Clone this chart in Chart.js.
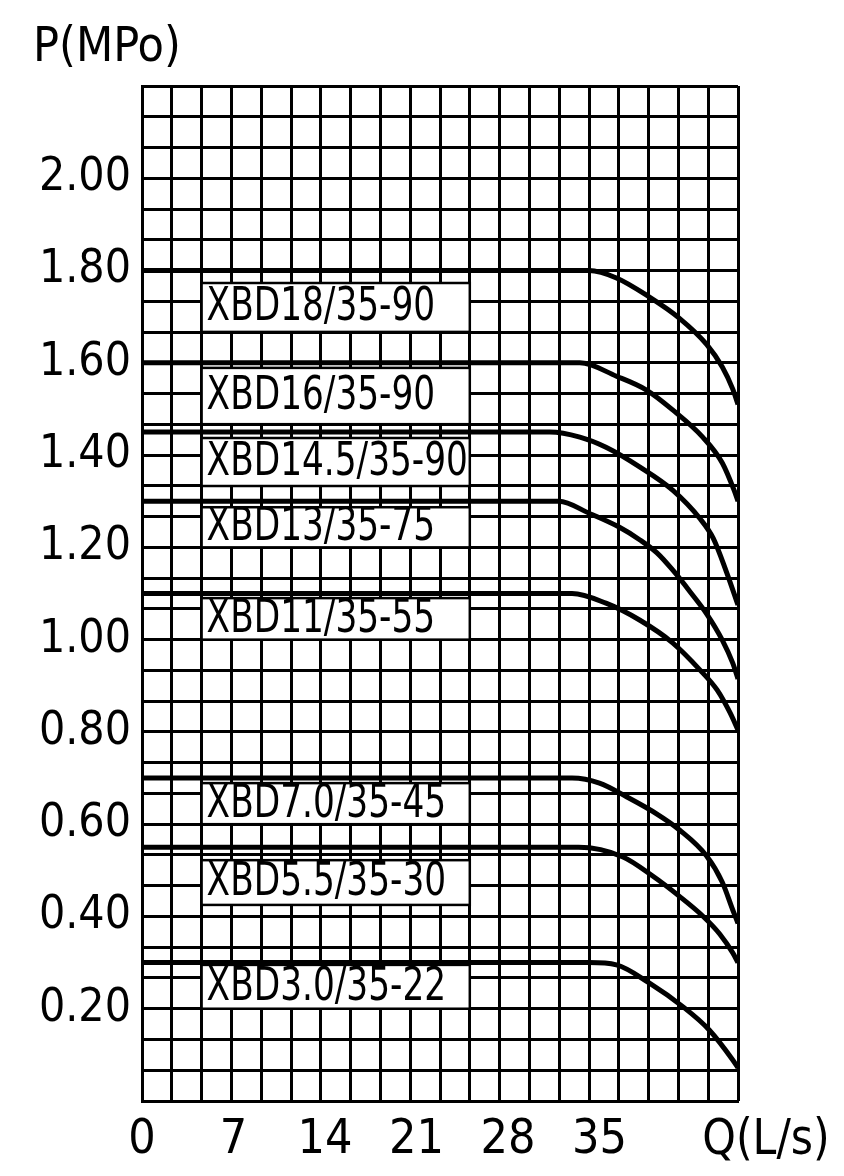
<!DOCTYPE html>
<html>
<head>
<meta charset="utf-8">
<script src="https://cdn.jsdelivr.net/npm/chart.js@4/dist/chart.umd.min.js"></script>
<style>
html,body{margin:0;padding:0;background:#fff;}
#wrap{width:844px;height:1176px;}
</style>
</head>
<body>
<div id="wrap"><canvas id="c" width="844" height="1176"></canvas></div>
<script>
const FONT = "'Liberation Sans Narrow','DejaVu Sans Condensed','Arial Narrow',sans-serif";

// ---- data (Q in L/s, P in MPa) ----
const seriesNames = ['XBD18/35-90','XBD16/35-90','XBD14.5/35-90','XBD13/35-75','XBD11/35-55','XBD7.0/35-45','XBD5.5/35-30','XBD3.0/35-22'];

const q18  = [0, 34.2, 36.3, 38.8, 41.1, 43.2, 44.4, 45.2, 45.6];
const p18  = [1.80, 1.80, 1.784, 1.743, 1.697, 1.640, 1.591, 1.543, 1.51];

const q16  = [0, 33.5, 36.3, 38.6, 40.6, 42.9, 44.4, 45.3, 45.6];
const p16  = [1.60, 1.60, 1.571, 1.541, 1.498, 1.439, 1.383, 1.324, 1.30];

const q145 = [0, 31.2, 33.5, 35.5, 38.1, 40.6, 42.7, 43.7, 44.7, 45.6];
const p145 = [1.45, 1.45, 1.439, 1.417, 1.374, 1.324, 1.262, 1.220, 1.148, 1.075];

const q13  = [0, 31.9, 34.2, 36.5, 38.1, 39.4, 40.6, 41.9, 43.2, 44.4, 45.2, 45.6];
const p13  = [1.30, 1.30, 1.274, 1.244, 1.216, 1.188, 1.151, 1.105, 1.056, 0.999, 0.949, 0.915];

const q11  = [0, 32.9, 35.5, 38.1, 40.6, 42.7, 44.0, 45.0, 45.6];
const p11  = [1.10, 1.10, 1.079, 1.042, 0.993, 0.934, 0.891, 0.841, 0.804];

const q70  = [0, 32.9, 35.0, 37.1, 39.4, 41.1, 43.2, 44.4, 45.2, 45.6];
const p70  = [0.70, 0.70, 0.689, 0.659, 0.622, 0.588, 0.531, 0.474, 0.414, 0.385];

const q55  = [0, 33.4, 36.8, 39.1, 41.1, 42.9, 44.2, 45.2, 45.6];
const p55  = [0.55, 0.55, 0.529, 0.487, 0.444, 0.401, 0.362, 0.321, 0.300];

const q30  = [0, 34.2, 36.3, 38.8, 41.4, 43.4, 45.2, 45.6];
const p30  = [0.30, 0.30, 0.295, 0.256, 0.204, 0.154, 0.089, 0.072];

const seriesQ = [q18, q16, q145, q13, q11, q70, q55, q30];
const seriesP = [p18, p16, p145, p13, p11, p70, p55, p30];

// ---- tick labels ----
const xTickValues = [0, 7, 14, 21, 28, 35];
const yTickLabels = ['0.20','0.40','0.60','0.80','1.00','1.20','1.40','1.60','1.80','2.00'];
const xAxisName = 'Q(L/s)';
const yAxisName = 'P(MPo)';

// ---- label boxes (annotation layout, in grid columns / MPa) ----
const boxLayout = [
  {from: 2, to: 11, top: 1.773, bottom: 1.667},
  {from: 2, to: 11, top: 1.589, bottom: 1.467},
  {from: 2, to: 11, top: 1.437, bottom: 1.333},
  {from: 2, to: 11, top: 1.287, bottom: 1.200},
  {from: 2, to: 11, top: 1.090, bottom: 1.000},
  {from: 2, to: 11, top: 0.689, bottom: 0.600},
  {from: 2, to: 11, top: 0.522, bottom: 0.425},
  {from: 2, to: 11, top: 0.295, bottom: 0.200}
];

const datasets = seriesNames.map((name, i) => ({
  label: name,
  data: seriesQ[i].map((q, j) => ({x: q, y: seriesP[i][j]})),
  borderColor: '#000',
  borderWidth: 5,
  pointRadius: 0,
  fill: false,
  cubicInterpolationMode: 'monotone'
}));

const labelPlugin = {
  id: 'pumpLabels',
  afterDatasetsDraw(chart, args, opts) {
    const {ctx, chartArea} = chart;
    const gx = chart.scales.x2, y = chart.scales.y;
    ctx.save();
    opts.boxes.forEach((b, i) => {
      const l = gx.getPixelForValue(b.from), r = gx.getPixelForValue(b.to);
      const t = y.getPixelForValue(b.top), bt = y.getPixelForValue(b.bottom);
      ctx.fillStyle = '#fff';
      ctx.fillRect(l, t, r - l, bt - t);
      ctx.strokeStyle = '#000';
      ctx.lineWidth = 2.5;
      ctx.strokeRect(l, t, r - l, bt - t);
      ctx.save();
      ctx.beginPath();
      ctx.rect(l, t, r - l, bt - t);
      ctx.clip();
      ctx.fillStyle = '#000';
      ctx.font = '46px ' + FONT;
      ctx.textAlign = 'left';
      ctx.textBaseline = 'middle';
      ctx.translate(l + 5, (t + bt) / 2 + 1);
      ctx.scale(opts.textScaleX, 1);
      ctx.fillText(chart.data.datasets[i].label, 0, 0);
      ctx.restore();
    });
    ctx.fillStyle = '#000';
    ctx.font = '50px ' + FONT;
    ctx.textAlign = 'center';
    ctx.textBaseline = 'middle';
    ctx.translate(chartArea.right + 28, chartArea.bottom + 40);
    ctx.scale(0.95, 1);
    ctx.fillText(opts.xTitle, 0, 0);
    ctx.restore();
  }
};

new Chart(document.getElementById('c'), {
  type: 'line',
  data: {datasets},
  plugins: [labelPlugin],
  options: {
    responsive: false,
    devicePixelRatio: 1,
    animation: false,
    layout: {padding: {left: 33, right: 106, top: 0, bottom: 0}},
    plugins: {
      legend: {display: false},
      tooltip: {enabled: false},
      title: {
        display: true, text: yAxisName, align: 'start', color: '#000',
        font: {family: FONT, size: 48, weight: 'normal'},
        padding: {top: 20, bottom: 8.4}
      },
      pumpLabels: {boxes: boxLayout, xTitle: xAxisName, textScaleX: 0.83}
    },
    scales: {
      x: {
        type: 'linear', position: 'bottom', min: 0, max: 45.6,
        afterBuildTicks: s => { s.ticks = xTickValues.map(v => ({value: v})); },
        afterFit: s => { s.height = 75; },
        ticks: {autoSkip: false, maxRotation: 0, color: '#000', padding: 11,
                font: {family: FONT, size: 48}},
        grid: {display: false, drawTicks: false},
        border: {display: true, color: '#000', width: 3}
      },
      x2: {
        type: 'linear', position: 'bottom', min: 0, max: 20,
        afterBuildTicks: s => { s.ticks = Array.from({length: 21}, (_, i) => ({value: i})); },
        afterFit: s => { s.height = 0; },
        ticks: {display: false},
        grid: {color: '#000', lineWidth: 3, drawTicks: false},
        border: {display: false}
      },
      y: {
        type: 'linear', min: 0, max: 2.2,
        afterBuildTicks: s => { s.ticks = Array.from({length: 34}, (_, i) => ({value: i / 15})); },
        afterFit: s => { s.width = 109; },
        ticks: {
          autoSkip: false, color: '#000', padding: 11,
          font: {family: FONT, size: 46},
          callback: (v, i) => (i % 3 === 0 && i > 0 && i < 33) ? yTickLabels[i / 3 - 1] : ''
        },
        grid: {color: '#000', lineWidth: 3, drawTicks: false},
        border: {display: true, color: '#000', width: 3}
      }
    }
  }
});
</script>
</body>
</html>
